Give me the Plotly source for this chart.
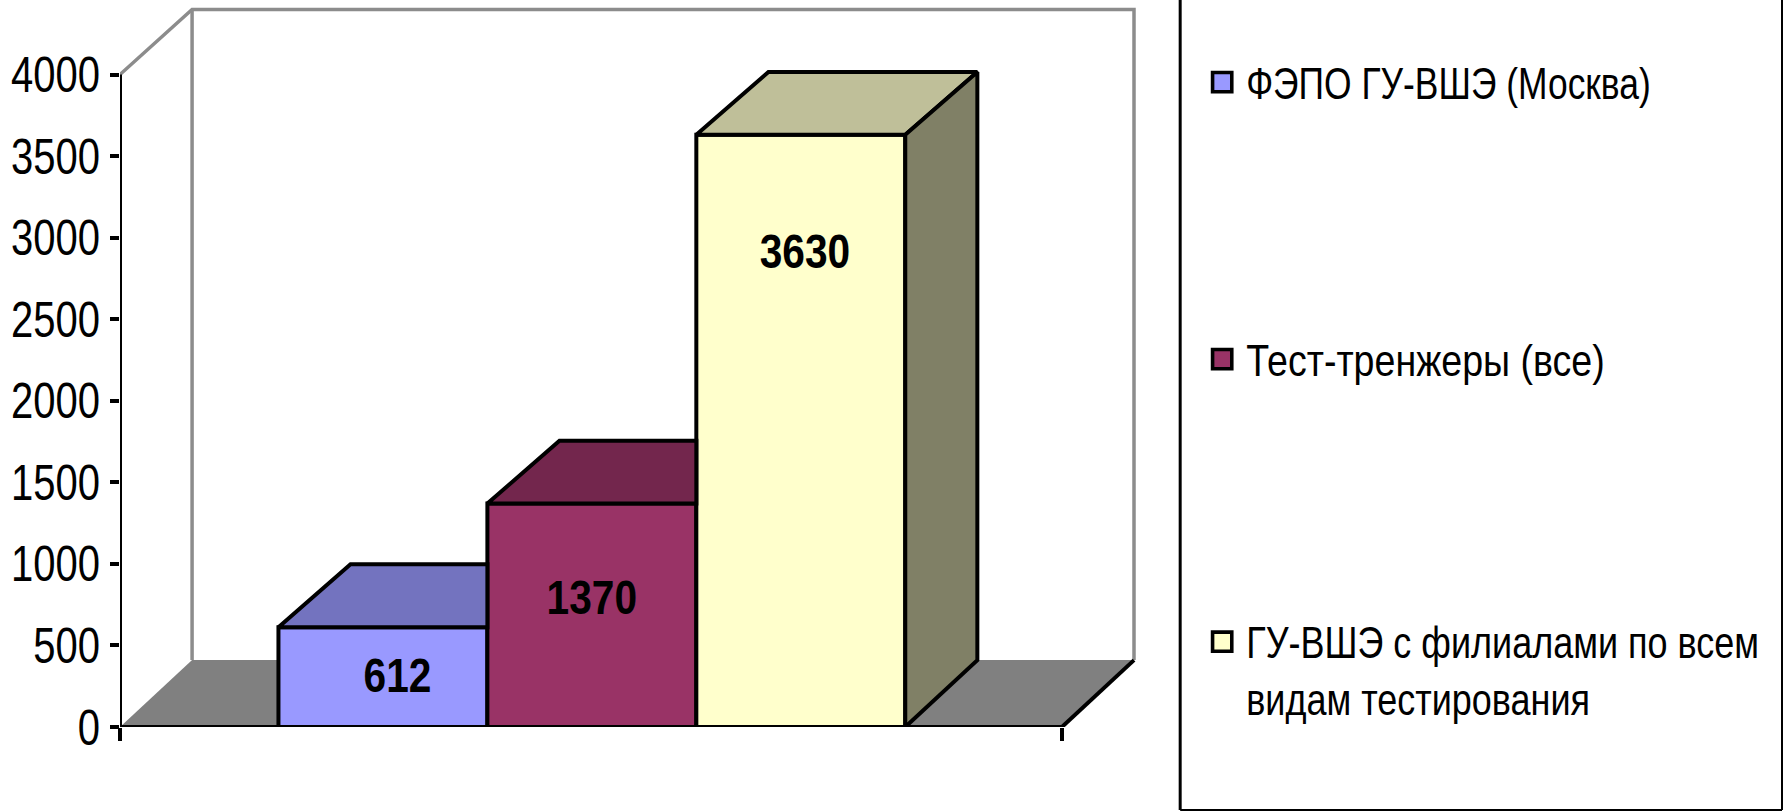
import plotly.graph_objects as go

categories = ["ФЭПО ГУ-ВШЭ (Москва)", "Тест-тренжеры (все)", "ГУ-ВШЭ с филиалами по всем<br>видам тестирования"]
values = [612, 1370, 3630]
positions = [0, 1, 2]
front_colors = ["#9999FF", "#993366", "#FFFFCC"]
top_colors = ["#7373BF", "#73264D", "#BFBF99"]
side_color = "#808066"
label_fraction = [0.473, 0.562, 0.796]
label_shift = [0.07, 0, 0.02]
y_ticks = [0, 500, 1000, 1500, 2000, 2500, 3000, 3500, 4000]

FONT = "Liberation Sans, Arial, sans-serif"
W, H = 1783, 812
L, B = 119.5, 85
PX_X = 209.0
X_LEFT = -(382.5 - L) / PX_X
X_RIGHT = (1061.7 - 382.5) / PX_X
X_MAX = X_LEFT + (W - L) / PX_X
Y_MAX = 4000 * (H - B) / 652.5
DX = 0.345
DY = 410
BAR_DY = 385
HALF = 0.5
LW = 4

fig = go.Figure()

for c, v, p, col in zip(categories, values, positions, front_colors):
    fig.add_trace(go.Bar(x=[p], y=[v], width=1, marker=dict(color=col, line=dict(color="black", width=LW)),
                         showlegend=False, name=c, hoverinfo="name+y", cliponaxis=False))

for i, (v, p, col) in enumerate(zip(values, positions, top_colors)):
    last = i == len(values) - 1
    xl, xr = p - HALF, p + HALF
    xs = [xl, xl + DX, xr + (DX if last else 0), xr, xl]
    ys = [v, v + BAR_DY, v + BAR_DY, v, v]
    fig.add_trace(go.Scatter(x=xs, y=ys, mode="lines", fill="toself", fillcolor=col,
                             line=dict(color="black", width=LW), showlegend=False, hoverinfo="skip"))

xr = positions[-1] + HALF
fig.add_trace(go.Scatter(x=[xr, xr + DX, xr + DX, xr, xr], y=[0, DY, values[-1] + BAR_DY, values[-1], 0],
                         mode="lines", fill="toself", fillcolor=side_color,
                         line=dict(color="black", width=LW), showlegend=False, hoverinfo="skip"))

# axis lines, limited to the front frame
fig.add_trace(go.Scatter(x=[X_LEFT, X_LEFT], y=[0, 4000], mode="lines", line=dict(color="black", width=LW),
                         showlegend=False, hoverinfo="skip", cliponaxis=False))
fig.add_trace(go.Scatter(x=[X_LEFT, X_RIGHT], y=[0, 0], mode="lines", line=dict(color="black", width=LW),
                         showlegend=False, hoverinfo="skip", cliponaxis=False))
fig.add_trace(go.Scatter(x=[X_RIGHT, X_RIGHT + DX], y=[0, DY], mode="lines", line=dict(color="black", width=LW),
                         showlegend=False, hoverinfo="skip"))

# data labels
fig.add_trace(go.Scatter(x=[p + s for p, s in zip(positions, label_shift)],
                         y=[v * f for v, f in zip(values, label_fraction)],
                         mode="text", text=[str(v) for v in values],
                         textfont=dict(family=FONT, size=49, color="black", weight="bold"),
                         showlegend=False, hoverinfo="skip"))

# legend swatches, one legend per category
legend_ids = ["legend", "legend2", "legend3"]
for c, col, lid in zip(categories, front_colors, legend_ids):
    fig.add_trace(go.Scatter(x=[None], y=[None], mode="markers", name=c, legend=lid,
                             marker=dict(symbol="square", size=16, color=col, line=dict(color="black", width=3))))

GRAY = "#808080"
WALL_TOP = 4000 + DY - 11
shapes = [
    dict(type="path", layer="below", xref="x", yref="y", fillcolor=GRAY, line=dict(width=0),
         path=f"M{X_LEFT},0 L{X_LEFT+DX},{DY} L{X_RIGHT+DX},{DY} L{X_RIGHT},0 Z"),
    dict(type="path", layer="below", xref="x", yref="y", line=dict(color="#8C8C8C", width=3.5),
         path=f"M{X_LEFT},4000 L{X_LEFT+DX},{WALL_TOP} L{X_RIGHT+DX},{WALL_TOP} L{X_RIGHT+DX},{DY}"),
    dict(type="line", layer="below", xref="x", yref="y", x0=X_LEFT + DX, x1=X_LEFT + DX, y0=DY, y1=WALL_TOP,
         line=dict(color="#8C8C8C", width=3.5)),
]
px = lambda x: (x - L) / (W - L)
py = lambda y: 1 - y / (H - B)
for x0, y0, x1, y1, w in [(1180, -5, 1180, 810, 3), (1180, 810, 1782, 810, 2), (1782, -5, 1782, 810, 2)]:
    shapes.append(dict(type="line", xref="paper", yref="paper", x0=px(x0), x1=px(x1), y0=py(y0), y1=py(y1),
                       line=dict(color="black", width=w)))

LEG = dict(orientation="h", xanchor="left", yanchor="top", font=dict(family=FONT, size=44, color="black"),
           bgcolor="rgba(0,0,0,0)", borderwidth=0, itemwidth=30, entrywidth=530, entrywidthmode="pixels")
LEG_X = px(1206)

fig.update_layout(
    width=W, height=H, autosize=False,
    margin=dict(l=L, r=0, t=0, b=B, pad=0),
    paper_bgcolor="white", plot_bgcolor="white",
    barmode="overlay",
    shapes=shapes,
    font=dict(family=FONT, color="black"),
    xaxis=dict(range=[X_LEFT, X_MAX], showgrid=False, zeroline=False, showline=False, automargin=False,
               tickmode="array", tickvals=[X_LEFT, X_RIGHT], ticks="outside", ticklen=13, tickwidth=LW,
               tickcolor="black", showticklabels=False, fixedrange=True),
    yaxis=dict(range=[0, Y_MAX], showgrid=False, zeroline=False, showline=False, automargin=False,
               tickmode="array", tickvals=y_ticks, ticks="outside", ticklen=9, tickwidth=LW, tickcolor="black",
               tickfont=dict(family=FONT, size=50, color="black"), fixedrange=True),
    legend=dict(x=LEG_X, y=py(47), **LEG),
    legend2=dict(x=LEG_X, y=py(324), **LEG),
    legend3=dict(x=LEG_X, y=py(606), **LEG),
)

post = """
document.body.style.margin='0';
document.documentElement.style.overflow='hidden';
function narrow(sel, k){
  document.querySelectorAll(sel).forEach(function(e){
    if(e.getAttribute('textLength')) return;
    e.setAttribute('textLength', e.getComputedTextLength()*k);
    e.setAttribute('lengthAdjust','spacingAndGlyphs');
  });
}
function squeeze(sel, k){
  document.querySelectorAll(sel).forEach(function(t){
    var x=parseFloat(t.getAttribute('x'))||0;
    t.setAttribute('transform','matrix('+k+' 0 0 1 '+(x*(1-k))+' 0)');
  });
}
function apply(){
  narrow('.ytick text', 0.80);
  narrow('.textpoint text', 0.83);
  squeeze('.legendtext', 0.805);
  squeeze('.legend2text', 0.854);
  squeeze('.legend3text', 0.818);
  document.querySelectorAll('.legendpoints path').forEach(function(p){
    var two = p.closest('.traces').querySelectorAll('tspan.line').length>1;
    p.setAttribute('transform','translate(16,'+(two?-28:0)+') scale(1.2)');
  });
}
apply();
setTimeout(apply, 50);
setTimeout(apply, 300);
"""
fig.write_html("out.html", config={"displayModeBar": False}, post_script=post)
